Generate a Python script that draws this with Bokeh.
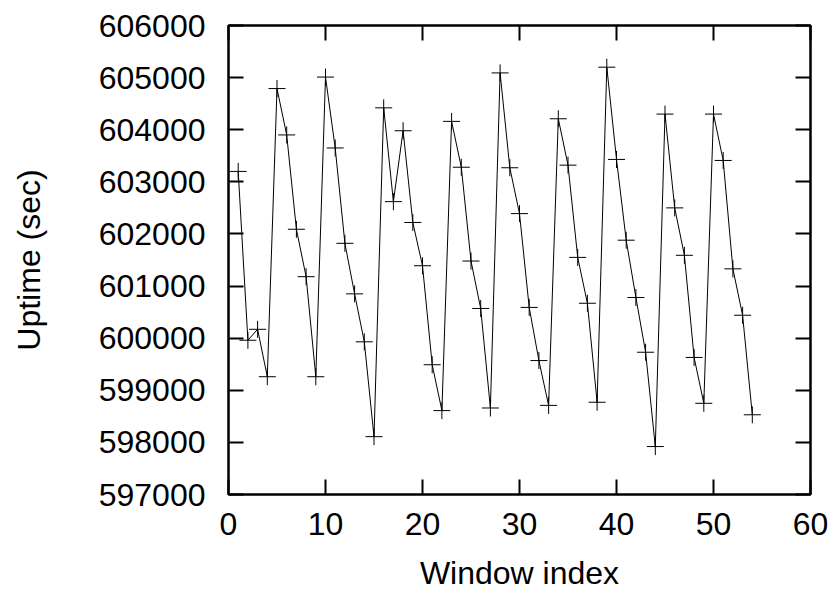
from bokeh.plotting import figure
from bokeh.models import Range1d, LinearAxis, FixedTicker, BasicTickFormatter
from bokeh.embed import file_html
from bokeh.resources import INLINE

# Data
window_index = list(range(1, 55))
uptime = [
    603200, 599960, 600170, 599260, 604790, 603900, 602090, 601180, 599260, 605010,
    603650, 601820, 600850, 599930, 598110, 604420, 602620, 603980, 602220, 601390,
    599490, 598610, 604160, 603280, 601480, 600570, 598660, 605090, 603270, 602390,
    600590, 599570, 598710, 604210, 603320, 601550, 600670, 598770, 605200, 603430,
    601880, 600780, 599730, 597920, 604300, 602500, 601590, 599630, 598750, 604300,
    603410, 601330, 600440, 598530,
]
x_ticks = [0, 10, 20, 30, 40, 50, 60]
y_ticks = [597000, 598000, 599000, 600000, 601000, 602000, 603000, 604000, 605000, 606000]

FONT = "Liberation Sans"
FS = "32px"

p = figure(width=835, height=593, output_backend="svg", toolbar_location=None,
           x_range=Range1d(0, 60), y_range=Range1d(597000, 606000),
           min_border_left=228, min_border_right=25, min_border_top=25, min_border_bottom=98)
p.grid.visible = False
p.outline_line_color = "black"
p.outline_line_width = 2
p.background_fill_color = "white"
p.border_fill_color = "white"

p.line(window_index, uptime, line_color="black", line_width=1)
p.scatter(window_index, uptime, marker="cross", size=17, line_color="black", line_width=1)

def style(ax, ticks):
    ax.ticker = FixedTicker(ticks=ticks)
    ax.axis_line_width = 2
    ax.axis_line_color = "black"
    ax.major_tick_line_width = 2
    ax.major_tick_line_color = "black"
    ax.major_tick_in = 15
    ax.major_tick_out = 0
    ax.minor_tick_in = 0
    ax.minor_tick_out = 0
    ax.major_label_text_font = FONT
    ax.major_label_text_font_size = FS
    ax.major_label_text_color = "black"
    ax.axis_label_text_font = FONT
    ax.axis_label_text_font_size = FS
    ax.axis_label_text_font_style = "normal"
    ax.axis_label_text_color = "black"

xa = p.xaxis[0]
style(xa, x_ticks)
xa.axis_label = "Window index"
xa.major_label_standoff = 18
xa.axis_label_standoff = 17

ya = p.yaxis[0]
style(ya, y_ticks)
ya.formatter = BasicTickFormatter(use_scientific=False)
ya.axis_label = "Uptime (sec)"
ya.major_label_standoff = 23
ya.axis_label_standoff = 49

top = LinearAxis()
style(top, x_ticks)
top.major_label_overrides = {t: "" for t in x_ticks}
p.add_layout(top, "above")

right = LinearAxis()
style(right, y_ticks)
right.major_label_overrides = {t: "" for t in y_ticks}
p.add_layout(right, "right")

open("out.html", "w").write(file_html(p, INLINE))
